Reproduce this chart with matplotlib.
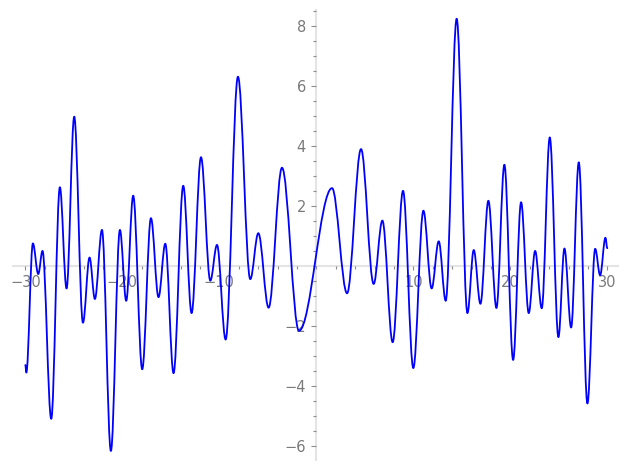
import matplotlib
matplotlib.use("Agg")
import matplotlib.pyplot as plt
from matplotlib.path import Path
from matplotlib.patches import PathPatch
from matplotlib.ticker import FixedLocator, MultipleLocator

# turning points of the curve (start, maxima/minima, end)
x_pts = [-30.0, -29.9, -29.22, -28.67, -28.23, -27.33, -26.44, -25.75, -24.96,
         -24.06, -23.38, -22.83, -22.1, -21.18, -20.25, -19.6, -18.88, -17.95,
         -17.05, -16.27, -15.57, -14.72, -13.72, -12.86, -11.89, -10.93, -10.24,
         -9.35, -8.08, -6.81, -5.98, -4.92, -3.54, -1.79, 1.62, 3.17, 4.61,
         5.91, 6.81, 7.87, 8.94, 10.0, 11.04, 11.89, 12.62, 13.34, 14.47,
         15.58, 16.23, 16.92, 17.74, 18.57, 19.39, 20.29, 21.11, 21.9, 22.56,
         23.24, 24.07, 24.96, 25.58, 26.27, 27.06, 27.95, 28.75, 29.26, 29.81,
         30.0]
y_pts = [-3.3, -3.55, 0.75, -0.27, 0.5, -5.09, 2.62, -0.75, 4.97,
         -1.89, 0.28, -1.10, 1.2, -6.16, 1.2, -1.16, 2.34, -3.44,
         1.59, -1.04, 0.74, -3.57, 2.67, -1.57, 3.62, -0.49, 0.7,
         -2.45, 6.3, -0.44, 1.09, -1.39, 3.27, -2.16, 2.59, -0.91, 3.89,
         -0.6, 1.51, -2.54, 2.5, -3.4, 1.84, -0.75, 0.82, -1.16, 8.23,
         -1.57, 0.53, -1.26, 2.17, -1.40, 3.37, -3.13, 2.12, -1.57, 0.5,
         -1.41, 4.28, -2.37, 0.58, -2.05, 3.45, -4.58, 0.57, -0.31, 0.94,
         0.59]

x_major = [-30, -20, -10, 10, 20, 30]
y_major = [-6, -4, -2, 2, 4, 6, 8]

fig = plt.figure(figsize=(6.27, 4.70), dpi=100)
ax = fig.add_axes([0.0203, 0.0213, 0.9653, 0.9574])

# smooth wave through the turning points (flat tangent at each one)
k = 0.36
verts = [(x_pts[0], y_pts[0])]
codes = [Path.MOVETO]
for i in range(len(x_pts) - 1):
    x0, y0, x1, y1 = x_pts[i], y_pts[i], x_pts[i + 1], y_pts[i + 1]
    dx = x1 - x0
    verts += [(x0 + k * dx, y0), (x1 - k * dx, y1), (x1, y1)]
    codes += [Path.CURVE4] * 3
ax.add_patch(PathPatch(Path(verts, codes), fill=False, edgecolor='blue', lw=1.3,
                       capstyle='round', joinstyle='round', zorder=3))

ax.set_xlim(-31.3, 31.1)
ax.set_ylim(-6.46, 8.52)

for s in ['top', 'right']:
    ax.spines[s].set_visible(False)
for s in ['left', 'bottom']:
    ax.spines[s].set_position(('data', 0))
    ax.spines[s].set_color('#e4e4e4')
    ax.spines[s].set_linewidth(1.5)
    ax.spines[s].set_zorder(1)

ax.xaxis.set_major_locator(FixedLocator(x_major))
ax.xaxis.set_minor_locator(MultipleLocator(2))
ax.yaxis.set_major_locator(FixedLocator(y_major))
ax.yaxis.set_minor_locator(MultipleLocator(0.5))

ax.tick_params(axis='both', which='both', direction='out', color='#8c8c8c',
               labelcolor='#7a7a7a', labelsize=10.5, pad=4)
ax.tick_params(axis='x', which='major', length=2.8, width=0.8)
ax.tick_params(axis='x', which='minor', length=2.2, width=0.8)
ax.tick_params(axis='y', which='major', length=3.6, width=0.8)
ax.tick_params(axis='y', which='minor', length=2.2, width=0.8)

fig.savefig("out.png", dpi=100)
